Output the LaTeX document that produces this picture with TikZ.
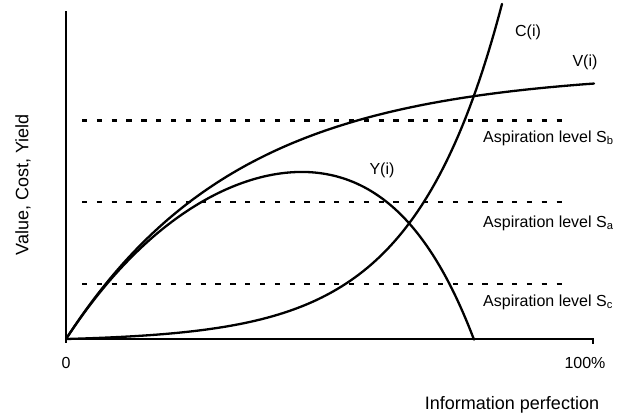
\documentclass[tikz,border=0pt]{standalone}
\usepackage{fontspec}
\setmainfont{Liberation Sans}
\begin{document}
\begin{tikzpicture}[x=1pt,y=-1pt,
  curve/.style={line width=2.3pt, line join=round, line cap=round},
  axisline/.style={line width=2.5pt},
  levelline/.style={line width=2.7pt, dash pattern=on 5.3pt off 9.53pt},
  lbl/.style={font=\fontsize{16}{19}\selectfont, inner sep=0pt},
  ttl/.style={font=\fontsize{18}{21}\selectfont, inner sep=0pt}]
\useasboundingbox (0,0) rectangle (629,418);
% axes
\coordinate (O) at (66,339);
\coordinate (ytop) at (66,11);
\coordinate (ybot) at (66,343);
\coordinate (xend) at (593,339);
\coordinate (xtick) at (593,344);
\draw[axisline] (ytop) -- (ybot);
\draw[axisline] (O) -- (xend) -- (xtick);
% aspiration levels
\coordinate (sbL) at (82,120.5); \coordinate (sbR) at (562,120.5);
\coordinate (saL) at (82,202);   \coordinate (saR) at (562,202);
\coordinate (scL) at (82,284);   \coordinate (scR) at (562,284);
\draw[levelline] (sbL) -- (sbR);
\draw[levelline] (saL) -- (saR);
\draw[levelline] (scL) -- (scR);
% curves
\draw[curve] plot[domain=66:594, samples=120, smooth] (\x,{339-268*(1-exp(-0.0058*(\x-66)))});
\draw[curve] plot[domain=66:502, samples=120, smooth] (\x,{339-2.44*(exp(0.0113*(\x-66))-1)});
\draw[curve] plot[domain=66:474, samples=120, smooth] (\x,{339-268*(1-exp(-0.0058*(\x-66)))+2.44*(exp(0.0113*(\x-66))-1)});
% labels
\node[lbl] (vlab) at (585,62) {V(i)};
\node[lbl] (clab) at (528,32) {C(i)};
\node[lbl] (ylab) at (382,170) {Y(i)};
\node[lbl, anchor=west] (sb) at (483,138) {Aspiration level S\textsubscript{b}};
\node[lbl, anchor=west] (sa) at (483,223) {Aspiration level S\textsubscript{a}};
\node[lbl, anchor=west] (sc) at (483,302) {Aspiration level S\textsubscript{c}};
\node[lbl] (zero) at (66,363) {0};
\node[lbl] (hund) at (585,363) {100\%};
\node[ttl] (xt) at (512,405) {Information perfection};
\node[ttl, rotate=90] (yt) at (23,185) {Value, Cost, Yield};
\end{tikzpicture}
\end{document}
